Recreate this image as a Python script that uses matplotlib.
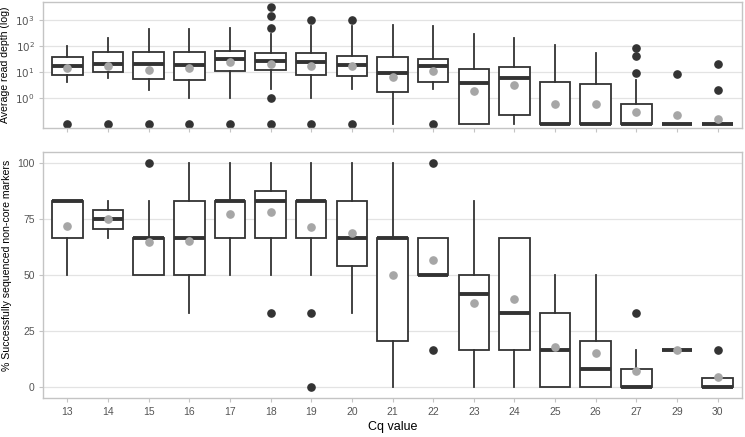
import matplotlib
matplotlib.use("Agg")
import matplotlib.pyplot as plt
from matplotlib.ticker import FixedLocator, NullLocator

plt.rcParams['font.family'] = ['Liberation Sans', 'DejaVu Sans']

# Cq categories (no samples at 28)
cq_values = ['13', '14', '15', '16', '17', '18', '19', '20', '21',
             '22', '23', '24', '25', '26', '27', '29', '30']

# Average read depth per sample, summarised as box stats (zero depth drawn at 0.1)
depth_q1 = [7.7, 9.8, 5.3, 4.8, 11, 12, 7.7, 6.7, 1.7, 4.0, 0.1, 0.215, 0.1, 0.1, 0.1, 0.1, 0.1]
depth_med = [17.4, 20.5, 21, 18.8, 30.4, 26.8, 24.5, 18.8, 8.75, 16.7, 3.6, 5.9, 0.1, 0.1, 0.1, 0.1, 0.1]
depth_q3 = [36, 60, 57, 57, 63.5, 52, 55, 41.9, 38.3, 30.4, 12.8, 15.7, 4.15, 3.3, 0.57, 0.1, 0.1]
depth_lo = [4.2, 5.9, 2.0, 1.0, 1.0, 2.1, 1.0, 2.1, 0.1, 2.1, 0.1, 0.1, 0.1, 0.1, 0.1, 0.1, 0.1]
depth_hi = [98, 196, 437, 437, 504, 280, 586, 586, 641, 586, 280, 197, 105, 55, 4.8, 0.1, 0.1]
depth_mean = [13.6, 17.2, 12, 13.6, 23.9, 20, 17.2, 16.3, 6.5, 11, 1.77, 3.2, 0.59, 0.56, 0.29, 0.21, 0.15]
depth_out = [[0.1], [0.1], [0.1], [0.1], [0.1], [3250, 1430, 490, 1, 0.1], [1000, 0.1],
             [1000, 0.1], [], [0.1], [], [], [], [], [81, 42, 8.75], [8], [20.5, 2.0]]

# % successfully sequenced non-core markers
pct_q1 = [66.7, 70.8, 50, 50, 66.7, 66.7, 66.7, 54.2, 20.8, 50, 16.7, 16.7, 0, 0, 0, 16.7, 0]
pct_med = [83.3, 75, 66.7, 66.7, 83.3, 83.3, 83.3, 66.7, 66.7, 50, 41.7, 33.3, 16.7, 8.3, 0, 16.7, 0]
pct_q3 = [83.3, 79.2, 66.7, 83.3, 83.3, 87.5, 83.3, 83.3, 66.7, 66.7, 50, 66.7, 33.3, 20.8, 8.3, 16.7, 4.2]
pct_lo = [50, 66.7, 50, 33.3, 50, 50, 50, 33.3, 0, 50, 0, 0, 0, 0, 0, 16.7, 0]
pct_hi = [83.3, 83.3, 83.3, 100, 100, 100, 100, 100, 100, 66.7, 83.3, 66.7, 50, 50, 16.7, 16.7, 4.2]
pct_mean = [72, 75, 64.9, 65.5, 77.2, 78.2, 71.6, 68.9, 50, 56.8, 37.5, 39.4, 17.9, 15.3, 7.1, 16.7, 4.4]
pct_out = [[], [], [100], [], [], [33.3], [33.3, 0], [], [], [100, 16.7], [], [], [], [], [33.3], [], [16.7]]

LINE = '#333333'
MEAN = '#A6A6A6'
GRID = '#E3E3E3'
BORDER = '#C4C4C4'
TICK_TXT = '#555555'


def make_stats(q1, med, q3, lo, hi, out):
    return [dict(q1=a, med=b, q3=c, whislo=d, whishi=e, fliers=f)
            for a, b, c, d, e, f in zip(q1, med, q3, lo, hi, out)]


def draw_boxes(ax, stats, means):
    pos = list(range(1, len(stats) + 1))
    ax.bxp(stats, positions=pos, widths=0.75, showcaps=False, patch_artist=True,
           boxprops=dict(facecolor='white', edgecolor=LINE, linewidth=1.3),
           whiskerprops=dict(color=LINE, linewidth=1.3),
           medianprops=dict(color=LINE, linewidth=2.8, solid_capstyle='butt'),
           flierprops=dict(marker='o', markerfacecolor=LINE, markeredgecolor=LINE,
                           markersize=5.2, linestyle='none'),
           zorder=2)
    ax.plot(pos, means, 'o', color=MEAN, markersize=5.2, zorder=4)
    ax.set_xlim(0.4, len(stats) + 0.6)
    ax.set_xticks(pos)


def style_axes(ax):
    for s in ax.spines.values():
        s.set_color(BORDER)
        s.set_linewidth(1.0)
    ax.grid(True, axis='y', color=GRID, linewidth=0.9, zorder=0)
    ax.set_axisbelow(True)
    ax.tick_params(axis='both', colors=BORDER, labelcolor=TICK_TXT, labelsize=7.5,
                   length=3, width=0.8, pad=3)
    ax.yaxis.set_minor_locator(NullLocator())


fig = plt.figure(figsize=(7.45, 4.37), dpi=100)
ax_top = fig.add_axes([0.0577, 0.707, 0.9383, 0.289])
ax_bot = fig.add_axes([0.0577, 0.0886, 0.9383, 0.5629])

# top panel: read depth on log scale
draw_boxes(ax_top, make_stats(depth_q1, depth_med, depth_q3, depth_lo, depth_hi, depth_out), depth_mean)
ax_top.set_yscale('log')
ax_top.set_ylim(10 ** -1.17, 10 ** 3.71)
ax_top.yaxis.set_major_locator(FixedLocator([1, 10, 100, 1000]))
ax_top.set_yticklabels([r'$10^0$', r'$10^1$', r'$10^2$', r'$10^3$'])
ax_top.set_xticklabels([])
ax_top.set_ylabel('Average read depth (log)', fontsize=7.6, labelpad=4)
style_axes(ax_top)
ax_top.yaxis.set_minor_locator(NullLocator())

# bottom panel: % sequenced
draw_boxes(ax_bot, make_stats(pct_q1, pct_med, pct_q3, pct_lo, pct_hi, pct_out), pct_mean)
ax_bot.set_ylim(-5, 105)
ax_bot.set_yticks([0, 25, 50, 75, 100])
ax_bot.set_xticklabels(cq_values)
ax_bot.set_xlabel('Cq value', fontsize=9, labelpad=3)
ax_bot.set_ylabel('% Successfully sequenced non-core markers', fontsize=7.6)
ax_bot.yaxis.set_label_coords(-0.0443, 0.54)
style_axes(ax_bot)

fig.savefig('out.png', dpi=100)
